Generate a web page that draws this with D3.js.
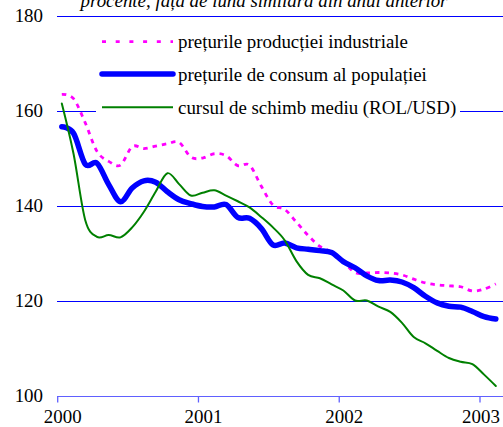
<!DOCTYPE html>
<html><head><meta charset="utf-8">
<script src="https://cdn.jsdelivr.net/npm/d3@7"></script>
<style>body{margin:0;background:#fff}svg{display:block}</style>
</head><body>
<svg id="c" width="503" height="427"></svg>
<script>
const title = "procente, față de luna similară din anul anterior";
const seriesNames = ["prețurile producției industriale", "prețurile de consum al populației", "cursul de schimb mediu (ROL/USD)"];
const yTicks = [100, 120, 140, 160, 180];
const xTickLabels = ["2000", "2001", "2002", "2003"];
const industrial = [163.5,162.6,157.5,151.5,149.4,148.6,152.5,152.1,152.6,153.1,153.4,150.3,150.1,151.0,150.6,148.5,148.6,144.2,140.2,139.3,136.6,133.8,131.5,130.3,128.3,126.0,125.9,126.0,125.9,125.5,124.6,123.8,123.4,123.2,123.0,122.1,122.5,123.6];
const consumer = [156.7,155.3,148.8,149.0,144.5,140.9,143.8,145.3,145.0,143.0,141.3,140.5,139.9,139.8,140.3,137.6,137.4,135.3,131.8,132.2,131.2,130.9,130.6,130.2,128.3,127.0,125.3,124.3,124.4,124.0,122.8,121.0,119.6,118.9,118.7,117.8,116.7,116.2];
const exchange = [161.6,151.0,137.0,133.5,133.9,133.4,135.5,138.8,143.0,146.9,144.6,142.2,142.8,143.3,142.2,141.0,139.7,137.7,135.5,132.8,128.4,125.5,124.8,123.5,122.2,120.1,120.1,118.8,117.7,115.4,112.4,111.1,109.5,108.0,107.2,106.7,104.5,102.1];

// pick an installed serif face and a size that matches the reference text width
const ctx = document.createElement("canvas").getContext("2d");
function w(fam, s) { ctx.font = "19px " + fam; return ctx.measureText(s).width; }
const probe = "prețurile producției industriale";
let fam = "serif";
for (const c of ['"Liberation Serif"', '"Times New Roman"', '"DejaVu Serif"', '"Noto Serif"']) {
  if (Math.abs(w(c + ", monospace", probe) - w("monospace", probe)) > 0.5) { fam = c; break; }
}
const fontFamily = fam + ", serif";
const fs = Math.min(20, 19 * 230 / w(fontFamily, probe));
const style = document.createElement("style");
style.textContent = `svg text{font-family:${fontFamily};font-size:${fs}px}`;
document.head.appendChild(style);

const svg = d3.select("#c");
const x = d3.scaleLinear().domain([0, 36]).range([57.7, 480]);
const y = d3.scaleLinear().domain([100, 180]).range([396, 16]);

// gridlines
svg.append("g").selectAll("line").data(yTicks.filter(d => d > 100)).join("line")
  .attr("x1", 57).attr("x2", 503)
  .attr("y1", d => Math.round(y(d)) + 0.5).attr("y2", d => Math.round(y(d)) + 0.5)
  .attr("stroke", "#0000ff").attr("stroke-width", 1);

// x axis
const xAxisG = svg.append("g").attr("transform", "translate(0,396.5)");
xAxisG.append("line").attr("x1", 57).attr("x2", 503).attr("stroke", "#6060ff").attr("stroke-width", 1.2);
xAxisG.selectAll("line.t").data(xTickLabels).join("line").attr("class", "t")
  .attr("x1", (d, i) => x(i * 12)).attr("x2", (d, i) => x(i * 12))
  .attr("y1", 0).attr("y2", 6).attr("stroke", "#6060ff").attr("stroke-width", 1.3);
xAxisG.selectAll("text").data(xTickLabels).join("text")
  .attr("x", (d, i) => Math.min(x(i * 12) + 5, 481)).attr("y", 26.5)
  .attr("text-anchor", "middle")
  .text(d => d);

// y labels
svg.append("g").selectAll("text").data(yTicks).join("text")
  .attr("x", 43).attr("y", d => y(d) + 6)
  .attr("text-anchor", "end")
  .text(d => d);

// title
svg.append("text").attr("x", 264).attr("y", 7)
  .attr("text-anchor", "middle")
  .style("font-style", "italic").text(title);

// legend box
svg.append("rect").attr("x", 96).attr("y", 26).attr("width", 364).attr("height", 98).attr("fill", "#fff");

const line = d3.line().x((d, i) => x(i + 0.35)).y(d => y(d)).curve(d3.curveCardinal.tension(0));
const styles = [
  {data: industrial, color: "#ff00ff", w: 2.8, dash: "4.5,5", ldash: "4,9.7"},
  {data: consumer, color: "#0000ff", w: 5.5, dash: null, ldash: null},
  {data: exchange, color: "#008000", w: 2, dash: null, ldash: null}
];
styles.forEach(s => {
  svg.append("path").datum(s.data).attr("d", line).attr("fill", "none")
    .attr("stroke", s.color).attr("stroke-width", s.w)
    .attr("stroke-dasharray", s.dash).attr("stroke-linejoin", "round")
    .attr("stroke-linecap", s.dash ? "butt" : "round");
});

// legend
const legY = [41.7, 74, 107.3];
seriesNames.forEach((n, i) => {
  const s = styles[i];
  svg.append("line").attr("x1", 102).attr("x2", 173).attr("y1", legY[i]).attr("y2", legY[i])
    .attr("stroke", s.color).attr("stroke-width", s.w)
    .attr("stroke-dasharray", s.ldash).attr("stroke-linecap", i === 1 ? "round" : "butt");
  svg.append("text").attr("x", 178).attr("y", legY[i] + 6.5).text(n);
});
</script>
</body></html>
